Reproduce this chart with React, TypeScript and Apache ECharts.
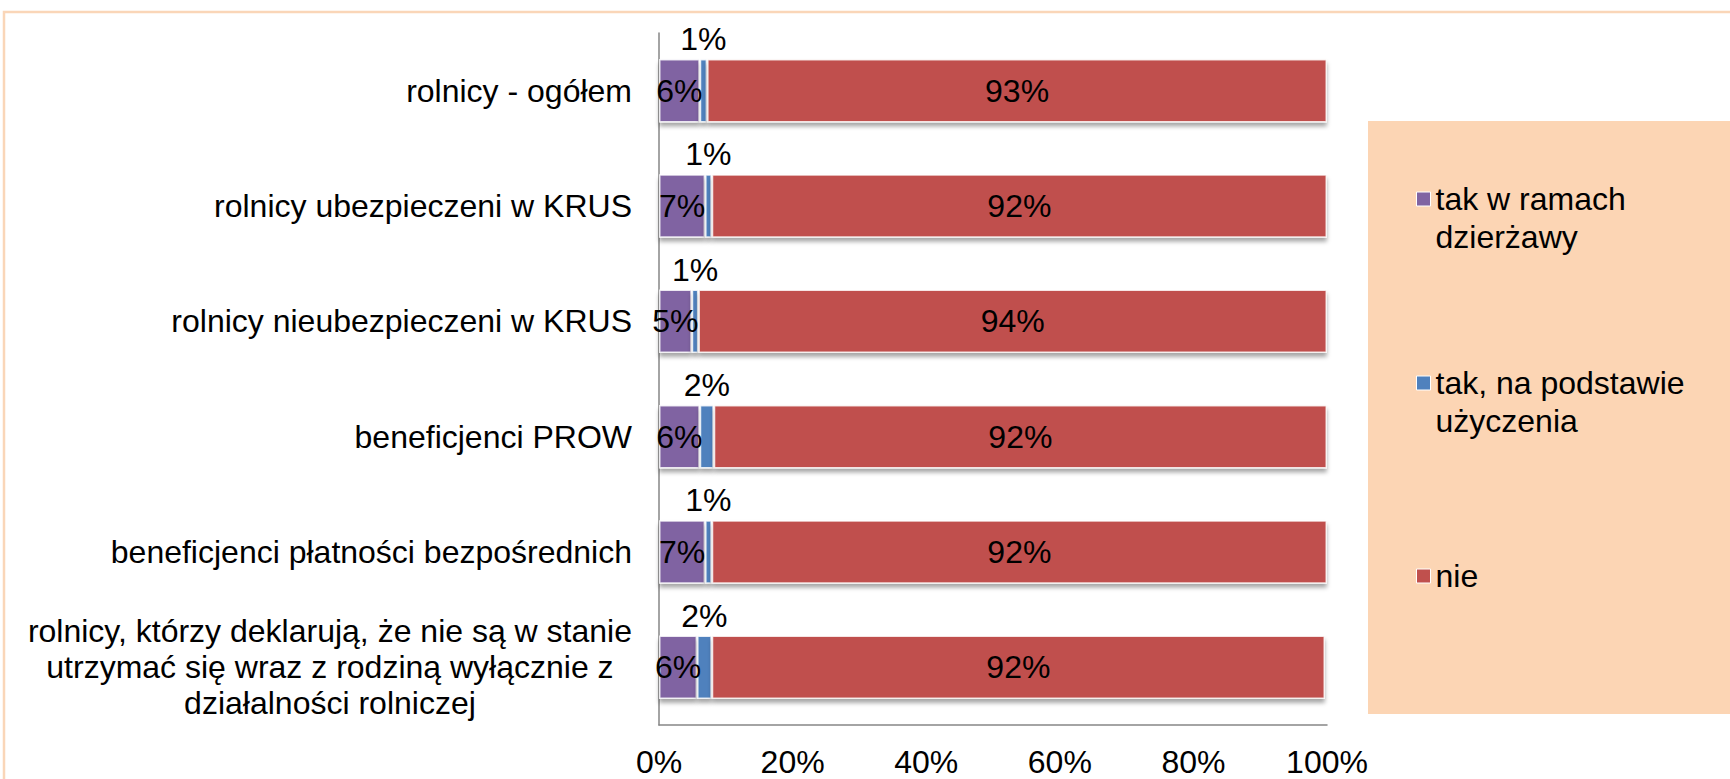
import React, { useEffect, useRef } from "react";
import * as echarts from "echarts";

const categories = [
  "rolnicy - ogółem",
  "rolnicy ubezpieczeni w KRUS",
  "rolnicy nieubezpieczeni w KRUS",
  "beneficjenci PROW",
  "beneficjenci płatności bezpośrednich",
  "rolnicy, którzy deklarują, że nie są w stanie\nutrzymać się wraz z rodziną wyłącznie z\ndziałalności rolniczej",
];
const seriesNames = ["tak w ramach dzierżawy", "tak, na podstawie użyczenia", "nie"];
const dzierzawa = [6.1, 6.9, 4.9, 6.1, 6.9, 5.7];
const uzyczenie = [1.1, 1.0, 1.0, 2.1, 1.0, 2.2];
const nie = [92.8, 92.1, 94.1, 91.8, 92.1, 91.8];
const legendLabels: Record<string, string> = {
  "tak w ramach dzierżawy": " \ntak w ramach\ndzierżawy",
  "tak, na podstawie użyczenia": " \ntak, na podstawie\nużyczenia",
  nie: "nie",
};

const FONT = "'Liberation Sans', Arial, Helvetica, sans-serif";
const COLORS = ["#8064A2", "#4F81BD", "#C0504D"];

export default function App() {
  const ref = useRef<HTMLDivElement>(null);
  useEffect(() => {
    document.body.style.margin = "0";
    if (!ref.current) return;
    const chart = echarts.init(ref.current, null, { renderer: "svg" });
    const fmt = (p: any) => Math.round(p.value) + "%";
    const itemStyleFor = (c: string) => ({
      color: c,
      borderColor: "rgba(255,255,255,0.8)",
      borderWidth: 1.5,
      shadowColor: "rgba(0,0,0,0.35)",
      shadowBlur: 4,
      shadowOffsetY: 4,
    });
    const labelBase = { fontSize: 32, fontFamily: FONT, color: "#000", formatter: fmt };
    const legendBase = {
      orient: "vertical" as const,
      left: 1416,
      padding: 0,
      itemWidth: 14,
      itemHeight: 14,
      icon: "rect",
      itemStyle: { borderColor: "#fff", borderWidth: 1 },
      textStyle: { fontSize: 32, fontFamily: FONT, color: "#000", lineHeight: 38 },
      formatter: (n: string) => legendLabels[n],
      selectedMode: false,
    };
    chart.setOption({
      animation: false,
      backgroundColor: "#fff",
      graphic: [
        {
          type: "rect",
          shape: { x: 4, y: 12, width: 1800, height: 900 },
          style: { fill: "none", stroke: "#FAD6B8", lineWidth: 2.5 },
          z: 0,
        },
        {
          type: "rect",
          shape: { x: 1368, y: 121, width: 400, height: 593 },
          style: { fill: "#FCD5B4" },
          z: 0,
        },
      ],
      grid: { left: 659, right: 403, top: 33, bottom: 54, containLabel: false },
      xAxis: {
        type: "value",
        min: 0,
        max: 100,
        interval: 20,
        axisLine: { show: true, lineStyle: { color: "#868686", width: 1.5 } },
        axisTick: { show: false },
        splitLine: { show: false },
        axisLabel: {
          formatter: "{value}%",
          fontSize: 32,
          fontFamily: FONT,
          color: "#000",
          margin: 21,
          lineHeight: 32,
        },
      },
      yAxis: {
        type: "category",
        inverse: true,
        data: categories,
        axisLine: { show: true, lineStyle: { color: "#868686", width: 1.5 } },
        axisTick: { show: false },
        axisLabel: {
          margin: 27,
          fontSize: 32,
          fontFamily: FONT,
          color: "#000",
          formatter: (v: string) => v.split("\n").map((l) => `{c|${l}}`).join("\n"),
          rich: { c: { align: "center", fontSize: 32, fontFamily: FONT, color: "#000", lineHeight: 36 } },
        },
      },
      legend: [
        { ...legendBase, top: 142, data: [seriesNames[0]] },
        { ...legendBase, top: 326, data: [seriesNames[1]] },
        { ...legendBase, top: 557, data: [seriesNames[2]] },
      ],
      series: [
        {
          name: seriesNames[0],
          type: "bar",
          stack: "s",
          barWidth: "55%",
          data: dzierzawa,
          itemStyle: itemStyleFor(COLORS[0]),
          label: { show: true, position: "inside", ...labelBase },
        },
        {
          name: seriesNames[1],
          type: "bar",
          stack: "s",
          data: uzyczenie,
          itemStyle: itemStyleFor(COLORS[1]),
          label: { show: true, position: "top", distance: 4, ...labelBase },
        },
        {
          name: seriesNames[2],
          type: "bar",
          stack: "s",
          data: nie,
          itemStyle: itemStyleFor(COLORS[2]),
          label: { show: true, position: "inside", ...labelBase },
        },
      ],
    });
    return () => chart.dispose();
  }, []);
  return <div ref={ref} style={{ width: 1730, height: 779 }} />;
}
